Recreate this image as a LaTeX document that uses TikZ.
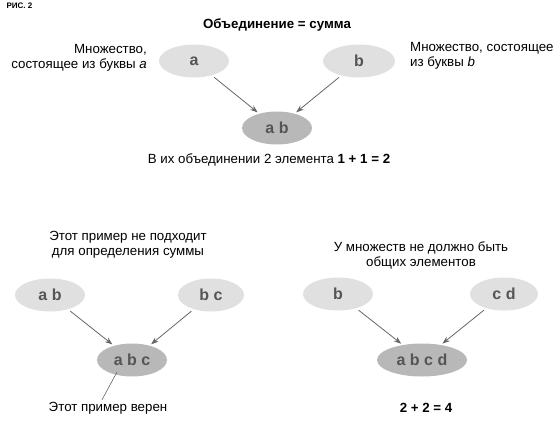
\documentclass[tikz,border=0pt]{standalone}
\usepackage{fontspec}
\setmainfont{Liberation Sans}
\usetikzlibrary{shapes.geometric,arrows.meta,calc}
\definecolor{setlight}{HTML}{E0E0E0}
\definecolor{setdark}{HTML}{B8B8B8}
\definecolor{setink}{HTML}{555555}
\definecolor{arrowgray}{HTML}{666666}

\begin{document}
\begin{tikzpicture}[x=1pt, y=-1pt,
    setshape/.style={ellipse, fill=setlight, minimum width=70pt, minimum height=33pt, inner sep=0pt,
      text=setink, font=\fontsize{16}{18}\selectfont\bfseries},
    unionshape/.style={setshape, fill=setdark},
    arr/.style={draw=arrowgray, line width=.8pt, shorten <=3pt, shorten >=2pt,
      -{Stealth[length=7.5pt, width=5.5pt]}},
    note/.style={font=\fontsize{13.3}{15}\selectfont, inner sep=0pt}]
    \useasboundingbox (0, 0) rectangle (559, 420);
    \node [anchor=west, font=\fontsize{8}{9}\selectfont\bfseries] (fig) at (3, 6) {РИС. 2};
    \node [note, font=\fontsize{13.3}{15}\selectfont\bfseries] (title) at (277, 25) {Объединение = сумма};
    \node [setshape] (a) at (194, 61) {a};
    \node [setshape, minimum width=72pt] (b) at (359, 61) {b};
    \node [unionshape] (ab) at (277, 128) {a b};
    \node [note, anchor=east, align=right] (seta) at (147, 58) {Множество,\\состоящее из буквы \textit{a}};
    \node [note, anchor=west, align=left] (setb) at (410, 56) {Множество, состоящее\\из буквы \textit{b}};
    \draw [arr] (a) -- (ab);
    \draw [arr] (b) -- (ab);
    \node [note] (sum1) at (269, 160) {В их объединении 2 элемента \textbf{1 + 1 = 2}};
    \node [note, align=center] (nofit) at (128, 245) {Этот пример не подходит\\для определения суммы};
    \node [setshape] (ab2) at (50, 295) {a b};
    \node [setshape, minimum width=66pt] (bc) at (211, 295) {b c};
    \node [unionshape] (abc) at (132, 360) {a b c};
    \draw [arr] (ab2) -- (abc);
    \draw [arr] (bc) -- (abc);
    \node [note] (ok) at (108, 408) {Этот пример верен};
    \draw [arrowgray, line width=.6pt] ($(abc) + (-15, 12)$) -- ($(ok.north) + (-6, -2)$);
    \node [note, align=center] (disj) at (421, 255) {У множеств не должно быть\\общих элементов};
    \node [setshape] (b2) at (338, 294) {b};
    \node [setshape, minimum width=68pt] (cd) at (504, 294) {c d};
    \node [unionshape, minimum width=90pt] (abcd) at (422, 360) {a b c d};
    \draw [arr] (b2) -- (abcd);
    \draw [arr] (cd) -- (abcd);
    \node [note, font=\fontsize{13.3}{15}\selectfont\bfseries] (sum2) at (426, 408) {2 + 2 = 4};
  \end{tikzpicture}
\end{document}
